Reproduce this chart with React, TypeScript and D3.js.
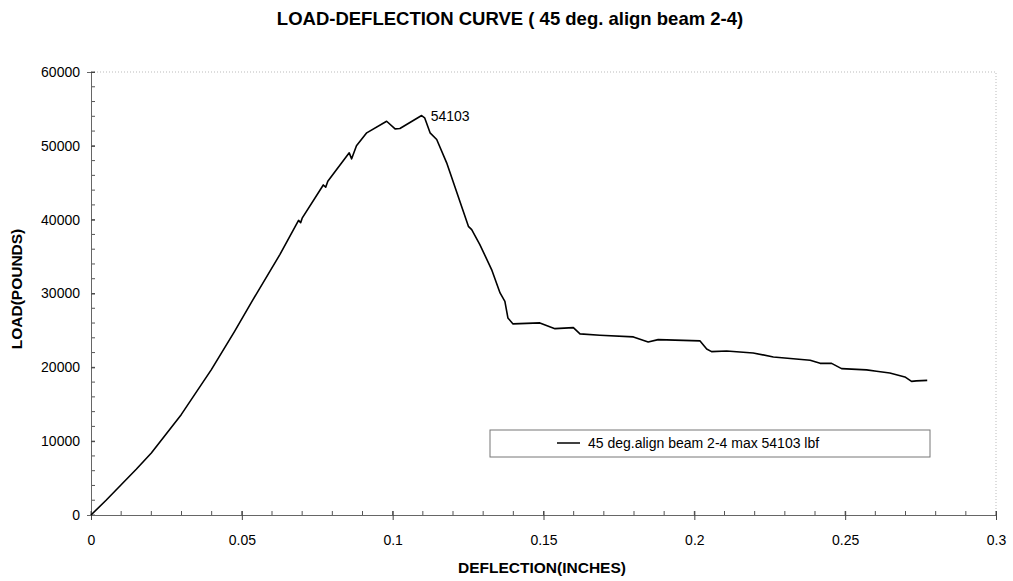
import { useEffect, useRef } from "react";
import * as d3 from "d3";

// values
const deflection = [
  0, 0.005, 0.01, 0.015, 0.02, 0.0299, 0.0399, 0.0476, 0.0537, 0.0626, 0.0688,
  0.0695, 0.07, 0.077, 0.0778, 0.0785, 0.0856, 0.0864, 0.088, 0.0914, 0.098,
  0.1008, 0.1024, 0.1096, 0.1106, 0.1124, 0.1146, 0.1179, 0.1251, 0.1262,
  0.1289, 0.1328, 0.1356, 0.1372, 0.1382, 0.1399, 0.1488, 0.1538, 0.1599,
  0.1621, 0.1687, 0.1798, 0.1847, 0.188, 0.2019, 0.2041, 0.2057, 0.2107,
  0.2195, 0.2262, 0.2384, 0.2417, 0.2455, 0.2488, 0.2571, 0.2604, 0.2648,
  0.2698, 0.272, 0.2736, 0.2772,
];
const load = [
  0, 2000, 4100, 6200, 8400, 13590, 19690, 24880, 29170, 35270, 39900, 39600,
  40200, 44700, 44400, 45200, 49050, 48240, 50000, 51760, 53330, 52300, 52340,
  54103, 53800, 51760, 50850, 47700, 39100, 38660, 36630, 33240, 30080, 28940,
  26690, 25880, 26020, 25240, 25380, 24530, 24340, 24120, 23440, 23750, 23580,
  22490, 22130, 22220, 21950, 21410, 20950, 20540, 20540, 19820, 19650, 19460,
  19240, 18700, 18100, 18160, 18240,
];
const xTicks = [0, 0.05, 0.1, 0.15, 0.2, 0.25, 0.3];
const yTicks = [0, 10000, 20000, 30000, 40000, 50000, 60000];
const peakLabel = "54103";
const seriesName = "45 deg.align beam 2-4 max 54103 lbf";

export default function App() {
  const svgRef = useRef<SVGSVGElement>(null);

  useEffect(() => {
    const width = 1013;
    const height = 581;
    const left = 91;
    const right = 996;
    const top = 72;
    const bottom = 515;
    const font = "Liberation Sans, Arial, sans-serif";

    const svg = d3.select(svgRef.current);
    svg.selectAll("*").remove();
    svg.attr("width", width).attr("height", height).attr("viewBox", [0, 0, width, height]);

    const x = d3.scaleLinear().domain([0, 0.3]).range([left, right]);
    const y = d3.scaleLinear().domain([0, 60000]).range([bottom, top]);

    // dotted plot frame (top and right)
    svg.append("path")
      .attr("d", `M${left},${top}H${right}V${bottom}`)
      .attr("fill", "none")
      .attr("stroke", "#bbb")
      .attr("stroke-dasharray", "1,2");

    // minor ticks
    const minorY = d3.range(0, 60001, 2000);
    svg.append("g").selectAll("line").data(minorY).join("line")
      .attr("x1", left).attr("x2", left + 4)
      .attr("y1", (d) => y(d)).attr("y2", (d) => y(d))
      .attr("stroke", "#555");
    const minorX = d3.range(0, 31).map((i) => i / 100);
    svg.append("g").selectAll("line").data(minorX).join("line")
      .attr("x1", (d) => x(d)).attr("x2", (d) => x(d))
      .attr("y1", bottom).attr("y2", bottom - 4)
      .attr("stroke", "#555");

    // y axis
    svg.append("g")
      .attr("transform", `translate(${left},0)`)
      .call(d3.axisLeft(y).tickValues(yTicks).tickSize(4).tickPadding(7).tickFormat(d3.format("d")))
      .call((g) => g.select(".domain").attr("stroke", "#666"))
      .call((g) => g.selectAll(".tick line").attr("x2", 4).attr("stroke", "#444"))
      .call((g) => g.selectAll(".tick text").attr("font-family", font).attr("font-size", 14).attr("fill", "#000"));

    // x axis
    svg.append("g")
      .attr("transform", `translate(0,${bottom})`)
      .call(d3.axisBottom(x).tickValues(xTicks).tickSize(5).tickPadding(15).tickFormat((d) => String(d)))
      .call((g) => g.select(".domain").attr("stroke", "#666"))
      .call((g) => g.selectAll(".tick line").attr("y1", -4).attr("stroke", "#444"))
      .call((g) => g.selectAll(".tick text").attr("font-family", font).attr("font-size", 14).attr("fill", "#000"));

    // curve
    const pts = deflection.map((d, i) => [d, load[i]] as [number, number]);
    const line = d3.line<[number, number]>().x((d) => x(d[0])).y((d) => y(d[1]));
    svg.append("path")
      .datum(pts)
      .attr("d", line)
      .attr("fill", "none")
      .attr("stroke", "#000")
      .attr("stroke-width", 1.6)
      .attr("stroke-linejoin", "round");

    // peak label
    const peakIdx = d3.maxIndex(load);
    svg.append("text")
      .attr("x", x(deflection[peakIdx]) + 9)
      .attr("y", y(load[peakIdx]) + 5)
      .attr("font-family", font)
      .attr("font-size", 14)
      .text(peakLabel);

    // title and axis titles
    svg.append("text")
      .attr("x", 510).attr("y", 25)
      .attr("text-anchor", "middle")
      .attr("font-family", font).attr("font-size", 18.5).attr("font-weight", "bold")
      .text("LOAD-DEFLECTION CURVE ( 45 deg. align beam 2-4)");
    svg.append("text")
      .attr("x", 542).attr("y", 573)
      .attr("text-anchor", "middle")
      .attr("font-family", font).attr("font-size", 15.5).attr("font-weight", "bold")
      .text("DEFLECTION(INCHES)");
    svg.append("text")
      .attr("transform", "translate(22,289) rotate(-90)")
      .attr("text-anchor", "middle")
      .attr("font-family", font).attr("font-size", 15.5).attr("font-weight", "bold")
      .text("LOAD(POUNDS)");

    // legend
    const lg = svg.append("g").attr("transform", "translate(490,430)");
    lg.append("rect")
      .attr("width", 440).attr("height", 27)
      .attr("fill", "#fff").attr("stroke", "#777");
    lg.append("line")
      .attr("x1", 67).attr("x2", 90).attr("y1", 13).attr("y2", 13)
      .attr("stroke", "#000").attr("stroke-width", 1.5);
    lg.append("text")
      .attr("x", 98).attr("y", 18)
      .attr("font-family", font).attr("font-size", 14)
      .text(seriesName);
  }, []);

  return (
    <svg ref={svgRef} style={{ position: "absolute", left: 0, top: 0, background: "#fff" }} />
  );
}
